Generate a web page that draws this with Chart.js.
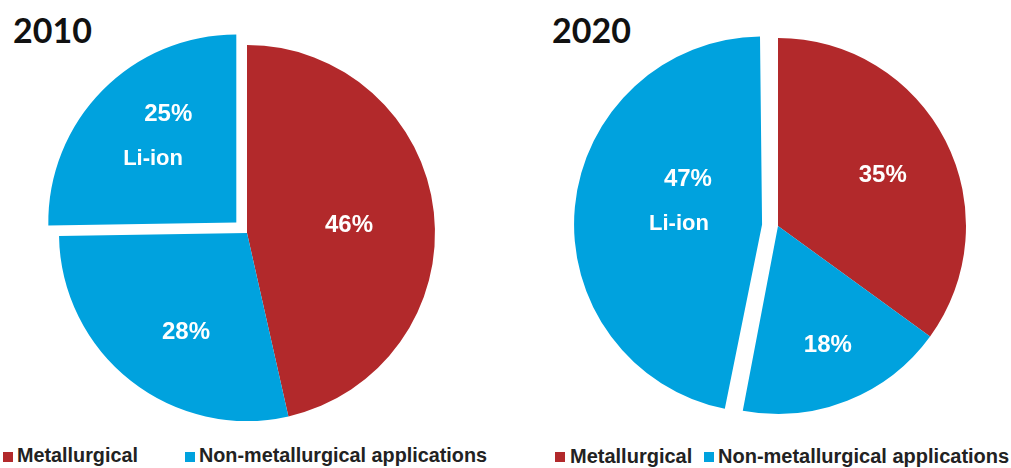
<!DOCTYPE html>
<html>
<head>
<meta charset="utf-8">
<script src="https://cdn.jsdelivr.net/npm/chart.js@4.4.1/dist/chart.umd.min.js"></script>
<style>
  html, body { margin: 0; padding: 0; background: #fff; width: 1011px; height: 468px; overflow: hidden; }
  .pie { position: absolute; width: 420px; height: 420px; }
  .title { position: absolute; font: 700 34px Lato, sans-serif; line-height: 1; color: #111; }
  .legend { position: absolute; top: 446px; font-family: "Liberation Sans", Arial, sans-serif; font-weight: 700; line-height: 1; color: #222; white-space: nowrap; }
</style>
</head>
<body>
<div class="title" style="left:13px; top:13px;" id="t0"></div>
<div class="title" style="left:552px; top:13px;" id="t1"></div>
<div class="pie" style="left:37px; top:23px;"><canvas id="pie0"></canvas></div>
<div class="pie" style="left:568px; top:16px;"><canvas id="pie1"></canvas></div>
<div id="legends"></div>

<script>
// data
const years = ['2010', '2020'];
const categories = ['Metallurgical', 'Non-metallurgical applications', 'Li-ion'];
const shares2010 = [46, 28, 25];
const shares2020 = [35, 18, 47];

const RED = '#B2292B';
const BLUE = '#00A2DE';
const sliceColors = [RED, BLUE, BLUE];
const PIE_RADIUS = 188;

// an exploded arc wider than a quarter gets drawn with a bigger radius;
// pull it back so every slice keeps the same radius
const keepRadius = {
  id: 'keepRadius',
  beforeDatasetsDraw(chart) {
    chart.getDatasetMeta(0).data.forEach(arc => {
      if (arc.$nominalR === undefined) arc.$nominalR = arc.outerRadius;
      const off = (arc.options.offset || 0) / 4;
      const fix = 1 - Math.sin(Math.min(Math.PI, arc.circumference || 0));
      arc.outerRadius = arc.$nominalR - off * fix;
    });
  }
};

// draws the white text inside each slice
const sliceLabels = {
  id: 'sliceLabels',
  afterDatasetsDraw(chart, args, opts) {
    const ctx = chart.ctx;
    const ds = chart.data.datasets[0];
    const meta = chart.getDatasetMeta(0);
    ctx.save();
    ctx.fillStyle = '#fff';
    ctx.textAlign = 'center';
    ctx.textBaseline = 'middle';
    meta.data.forEach((arc, i) => {
      // arc element draws its offset at a quarter of the option value
      const off = (arc.options.offset || 0) / 4;
      const mid = (arc.startAngle + arc.endAngle) / 2;
      const cx = arc.x + Math.cos(mid) * off;
      const cy = arc.y + Math.sin(mid) * off;
      const R = arc.$nominalR || arc.outerRadius;
      const texts = [ds.data[i] + '%'];
      if (i === 2) texts.push(chart.data.labels[i]);
      texts.forEach((t, k) => {
        const p = opts.place[i][k];
        const a = mid + p.turn * Math.PI / 180;
        ctx.font = (k === 0 ? '700 24px' : '700 22px') + ' "Liberation Sans", Arial, sans-serif';
        ctx.fillText(t, cx + Math.cos(a) * R * p.r, cy + Math.sin(a) * R * p.r);
      });
    });
    ctx.restore();
  }
};

function makePie(id, values, liOffset, place) {
  return new Chart(document.getElementById(id), {
    type: 'pie',
    data: {
      labels: categories,
      datasets: [{
        data: values,
        backgroundColor: sliceColors,
        borderWidth: 0,
        offset: [0, 0, liOffset * 4],
        radius: PIE_RADIUS
      }]
    },
    options: {
      responsive: true,
      maintainAspectRatio: false,
      animation: false,
      layout: { padding: 0 },
      plugins: {
        legend: { display: false },
        tooltip: { enabled: false },
        sliceLabels: { place: place }
      }
    },
    plugins: [keepRadius, sliceLabels]
  });
}

makePie('pie0', shares2010, 15, [
  [{ r: 0.544, turn: 2 }],
  [{ r: 0.62, turn: -6.6 }],
  [{ r: 0.68, turn: 13.3 }, { r: 0.557, turn: -7.2 }]
]);
makePie('pie1', shares2020, 16, [
  [{ r: 0.62, turn: 1 }],
  [{ r: 0.69, turn: -1 }],
  [{ r: 0.463, turn: 26.2 }, { r: 0.442, turn: -5.1 }]
]);

document.getElementById('t0').textContent = years[0];
document.getElementById('t1').textContent = years[1];

// legends under each pie (first two categories only)
const legendSpots = [
  { size: 19.8, items: [{ box: 3, text: 17 }, { box: 185, text: 199 }] },
  { size: 20, items: [{ box: 555, text: 570 }, { box: 704, text: 718 }] }
];
const legendRoot = document.getElementById('legends');
legendSpots.forEach(spot => {
  spot.items.forEach((it, i) => {
    const box = document.createElement('span');
    box.style.cssText = 'position:absolute;left:' + it.box + 'px;top:452px;width:10px;height:10px;background:' + sliceColors[i];
    legendRoot.appendChild(box);
    const lab = document.createElement('div');
    lab.className = 'legend';
    lab.style.left = it.text + 'px';
    lab.style.fontSize = spot.size + 'px';
    lab.textContent = categories[i];
    legendRoot.appendChild(lab);
  });
});
</script>
</body>
</html>
